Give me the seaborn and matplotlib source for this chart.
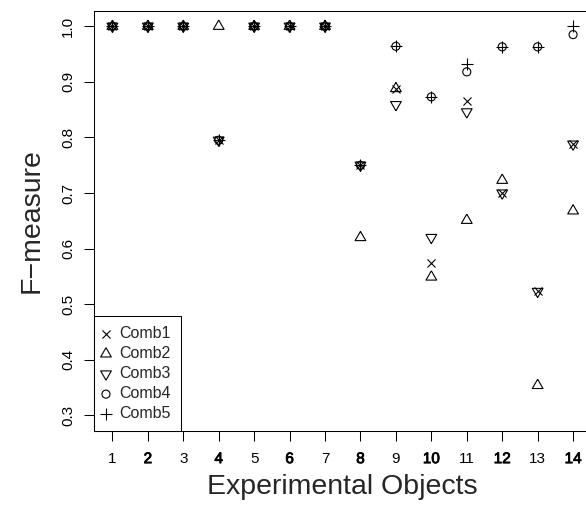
import seaborn as sns
import matplotlib.pyplot as plt
import matplotlib.patheffects as pe
import numpy as np
import pandas as pd

# F-measure per experimental object
objects = list(range(1, 15))
comb1 = [1.0, 1.0, 1.0, 0.795, 1.0, 1.0, 1.0, 0.750, 0.888, 0.575, 0.866, 0.700, 0.523, 0.788]
comb2 = [1.0, 1.0, 1.0, 1.000, 1.0, 1.0, 1.0, 0.620, 0.888, 0.549, 0.651, 0.723, 0.354, 0.668]
comb3 = [1.0, 1.0, 1.0, 0.795, 1.0, 1.0, 1.0, 0.750, 0.859, 0.620, 0.846, 0.700, 0.523, 0.788]
comb4 = [1.0, 1.0, 1.0, 0.795, 1.0, 1.0, 1.0, 0.750, 0.964, 0.873, 0.918, 0.963, 0.963, 0.985]
comb5 = [1.0, 1.0, 1.0, 0.795, 1.0, 1.0, 1.0, 0.750, 0.964, 0.873, 0.932, 0.963, 0.963, 1.000]
combo_names = ['Comb1', 'Comb2', 'Comb3', 'Comb4', 'Comb5']
y_ticks = [0.3, 0.4, 0.5, 0.6, 0.7, 0.8, 0.9, 1.0]

df = pd.DataFrame({
    'obj': objects * 5,
    'value': comb1 + comb2 + comb3 + comb4 + comb5,
    'combo': [c for c in combo_names for _ in objects],
})

sns.set_theme(style='ticks')
plt.rcParams['font.family'] = ['Liberation Sans', 'DejaVu Sans']
plt.rcParams['axes.linewidth'] = 0.75

# equilateral triangles like R's pch 2 / pch 6
tri_up = [(0, 0.577), (-0.5, -0.289), (0.5, -0.289), (0, 0.577)]
tri_dn = [(0, -0.577), (-0.5, 0.289), (0.5, 0.289), (0, -0.577)]
styles = {
    'Comb1': ('x', 5.8, False),
    'Comb2': (tri_up, 8.9, True),
    'Comb3': (tri_dn, 8.9, True),
    'Comb4': ('o', 5.8, True),
    'Comb5': ('+', 8.0, False),
}

fig = plt.figure(figsize=(5.86, 5.08), dpi=100)
ax = fig.add_axes([94 / 586, 77 / 508, 497.5 / 586, 420.3 / 508])

for name in combo_names:
    sub = df[df['combo'] == name]
    marker, ms, filled = styles[name]
    if filled:
        sns.scatterplot(data=sub, x='obj', y='value', marker=marker, s=ms ** 2,
                        facecolor='none', edgecolor='black', color='black',
                        linewidth=0.8, label=name, legend=False, ax=ax)
    else:
        sns.scatterplot(data=sub, x='obj', y='value', marker=marker, s=ms ** 2,
                        color='black', linewidth=0.8, label=name, legend=False, ax=ax)

ax.set_xlim(0.48, 14.52)
ax.set_ylim(0.272, 1.028)
ax.set_xticks(objects)
ax.set_xticklabels([str(o) for o in objects])
ax.set_yticks(y_ticks)
ax.set_yticklabels([f'{t:.1f}' for t in y_ticks])
ax.tick_params(axis='both', direction='out', length=7.2, width=0.75, labelsize=11, colors='black')
ax.tick_params(axis='x', pad=8)
ax.tick_params(axis='y', pad=6.5)
plt.setp(ax.get_yticklabels(), rotation=90, va='center')
# R drew the even labels twice, so they look heavier
for lab in ax.get_xticklabels():
    if int(lab.get_text()) % 2 == 0:
        lab.set_path_effects([pe.withStroke(linewidth=0.6, foreground='black')])

ax.set_xlabel('Experimental Objects', fontsize=20.5, labelpad=6)
ax.set_ylabel('F\u2212measure', fontsize=20.5, labelpad=12)

for sp in ax.spines.values():
    sp.set_color('black')

leg = ax.legend(loc='lower left', bbox_to_anchor=(0, 0), borderaxespad=0,
                fontsize=11.5, frameon=True, fancybox=False, framealpha=1,
                edgecolor='black', borderpad=0.6, labelspacing=0.32,
                handlelength=0.3, handletextpad=0.7, scatterpoints=1)
leg.get_frame().set_linewidth(0.75)

fig.savefig('out.png', dpi=100)
